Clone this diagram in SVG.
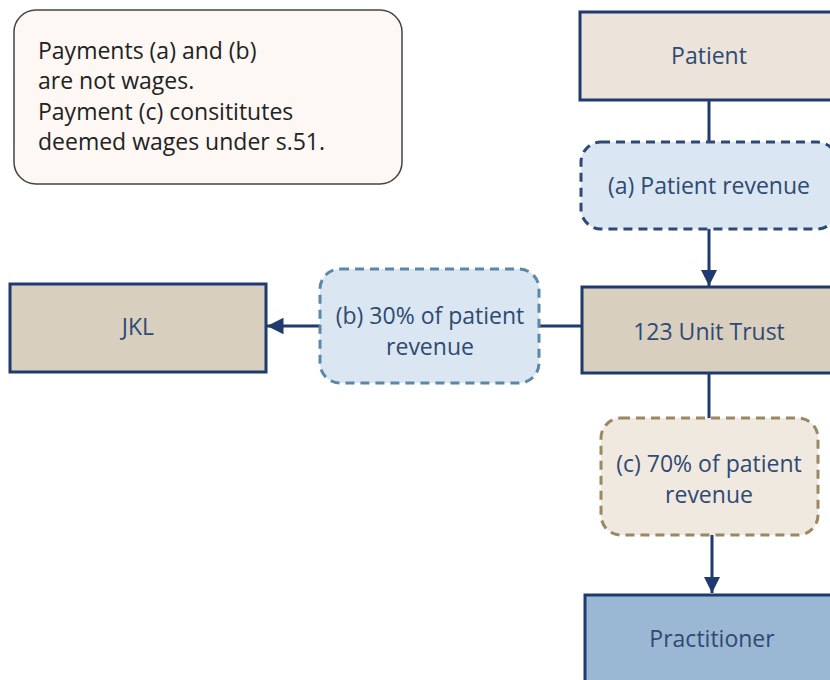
<svg xmlns="http://www.w3.org/2000/svg" width="830" height="680" viewBox="0 0 830 680">
<defs>
<marker id="arr" viewBox="0 0 10 10" refX="10" refY="5" markerWidth="5.5" markerHeight="5.5" orient="auto" markerUnits="strokeWidth">
<path d="M0,0 L10,5 L0,10 z" fill="#1f3a6e"/>
</marker>
<style>
.box{stroke:#1f3a6e;stroke-width:3}
.lbl{font-family:"Open Sans","Liberation Sans",sans-serif;font-size:23px;fill:#2f4a73;text-anchor:middle}
.note{font-family:"Open Sans","Liberation Sans",sans-serif;font-size:23px;fill:#222}
.dash{stroke-width:3;stroke-dasharray:9 6}
.conn{stroke:#1f3a6e;stroke-width:3;fill:none}
</style>
</defs>
<rect width="830" height="680" fill="#ffffff"/>
<g id="note">
<rect x="14" y="10" width="388" height="174" rx="22" fill="#fdf8f4" stroke="#444" stroke-width="1.5"/>
<text class="note" x="38" y="59">Payments (a) and (b)</text>
<text class="note" x="38" y="89">are not wages.</text>
<text class="note" x="38" y="120">Payment (c) consititutes</text>
<text class="note" x="38" y="150">deemed wages under s.51.</text>
</g>
<g id="connectors">
<line class="conn" x1="709" y1="100" x2="709" y2="142"/>
<line class="conn" x1="709" y1="229" x2="709" y2="286" marker-end="url(#arr)"/>
<line class="conn" x1="582" y1="326" x2="539" y2="326"/>
<line class="conn" x1="320" y1="326" x2="267" y2="326" marker-end="url(#arr)"/>
<line class="conn" x1="709" y1="373" x2="709" y2="418"/>
<line class="conn" x1="712" y1="535" x2="712" y2="593" marker-end="url(#arr)"/>
</g>
<g id="patient">
<rect class="box" x="580" y="12" width="258" height="88" fill="#ece4da"/>
<text class="lbl" x="709" y="64">Patient</text>
</g>
<g id="a_revenue">
<rect class="dash" x="581" y="142" width="256" height="87" rx="20" fill="#dae6f1" stroke="#2e4a72"/>
<text class="lbl" x="709" y="194">(a) Patient revenue</text>
</g>
<g id="trust">
<rect class="box" x="582" y="287" width="256" height="86" fill="#d9cfbf"/>
<text class="lbl" x="709" y="340">123 Unit Trust</text>
</g>
<g id="jkl">
<rect class="box" x="10" y="284" width="256" height="88" fill="#d9cfbf"/>
<text class="lbl" x="138" y="335">JKL</text>
</g>
<g id="b_revenue">
<rect class="dash" x="320" y="269" width="219" height="114" rx="20" fill="#dae6f1" stroke="#5b87a8"/>
<text class="lbl" x="430" y="324">(b) 30% of patient</text>
<text class="lbl" x="430" y="355">revenue</text>
</g>
<g id="c_revenue">
<rect class="dash" x="601" y="418" width="217" height="117" rx="20" fill="#efe9e0" stroke="#9b8764"/>
<text class="lbl" x="709" y="472">(c) 70% of patient</text>
<text class="lbl" x="709" y="503">revenue</text>
</g>
<g id="practitioner">
<rect class="box" x="585" y="595" width="256" height="100" fill="#9ab8d4"/>
<text class="lbl" x="712" y="647">Practitioner</text>
</g>
</svg>
